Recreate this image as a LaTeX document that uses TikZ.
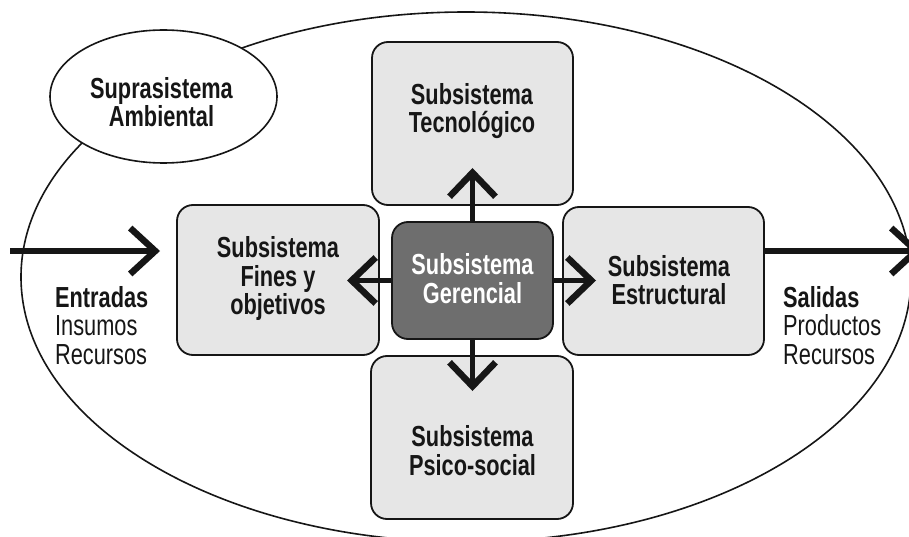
\documentclass[tikz,border=0pt]{standalone}
\usepackage{fontspec}
\setmainfont{Liberation Sans}
\newfontfamily\cf[FakeStretch=0.75]{Liberation Sans}
\usetikzlibrary{arrows.meta,shapes.geometric}
\definecolor{ink}{HTML}{161616}
\definecolor{boxfill}{HTML}{E6E6E6}
\definecolor{gerfill}{HTML}{6E6E6E}
\tikzset{
  sbox/.style={draw=ink, line width=1.8pt, fill=boxfill, rounded corners=16pt, inner sep=0pt},
  gbox/.style={sbox, fill=gerfill},
  lbl/.style={font=\cf\bfseries\fontsize{29}{28.5}\selectfont, align=center, text=ink, inner sep=0pt},
  side/.style={font=\cf\fontsize{29}{28.5}\selectfont, align=left, text=ink, inner sep=0pt, anchor=west},
  garrow/.style={draw=ink, line width=4.8pt, -{Straight Barb[length=24pt,width=46pt,line width=6.5pt]}},
  iarrow/.style={draw=ink, line width=6pt, -{Straight Barb[length=25pt,width=46pt,line width=6.5pt]}}
}
\begin{document}
\begin{tikzpicture}[x=1pt,y=-1pt]
\useasboundingbox (0,0) rectangle (909,537);
\clip (0,0) rectangle (909,537);
\fill[white] (0,0) rectangle (909,537);
% outer system
\draw[ink, line width=1.6pt] (466,277) ellipse [x radius=445pt, y radius=265pt];
% suprasistema
\node[ellipse, draw=ink, line width=1.6pt, fill=white, minimum width=227pt, minimum height=133pt, inner sep=0pt] (supra) at (163.5,96.5) {};
\node[lbl] (supratxt) at (161.5,102) {Suprasistema\\Ambiental};
% boxes
\node[sbox, minimum width=201pt, minimum height=163pt] (tec) at (472.5,123.5) {};
\node[sbox, minimum width=202pt, minimum height=150pt] (fin) at (278,280) {};
\node[sbox, minimum width=201pt, minimum height=148pt] (est) at (663.5,281) {};
\node[sbox, minimum width=202pt, minimum height=163pt] (psi) at (472,437.5) {};
\node[gbox, minimum width=161pt, minimum height=117pt] (ger) at (472.5,280.5) {};
% box texts
\node[lbl] (tectxt) at (472,111) {Subsistema\\Tecnológico};
\node[lbl] (fintxt) at (278,279) {Subsistema\\Fines y\\objetivos};
\node[lbl, text=white] (gertxt) at (472.5,278.5) {Subsistema\\Gerencial};
\node[lbl] (esttxt) at (669,280) {Subsistema\\Estructural};
\node[lbl] (psitxt) at (472.5,450.5) {Subsistema\\Psico-social};
% side texts
\node[side] (entr) at (55,325.5) {\textbf{Entradas}\\Insumos\\Recursos};
\node[side] (sal) at (783,325.5) {\textbf{Salidas}\\Productos\\Recursos};
% arrow end points
\coordinate (tipU) at (472.5,168);
\coordinate (tipL) at (347,280.5);
\coordinate (tipR) at (596,280.5);
\coordinate (tipD) at (472.5,391);
\coordinate (inStart) at (10,251);
\coordinate (inTip) at (160,251);
\coordinate (outTip) at (921,251);
% arrows
\draw[garrow] (ger.north) -- (tipU);
\draw[garrow] (ger.west) -- (tipL);
\draw[garrow] (ger.east) -- (tipR);
\draw[garrow] (ger.south) -- (tipD);
\draw[iarrow] (inStart) -- (inTip);
\draw[iarrow] ([yshift=30pt]est.east) -- (outTip);
\end{tikzpicture}
\end{document}
